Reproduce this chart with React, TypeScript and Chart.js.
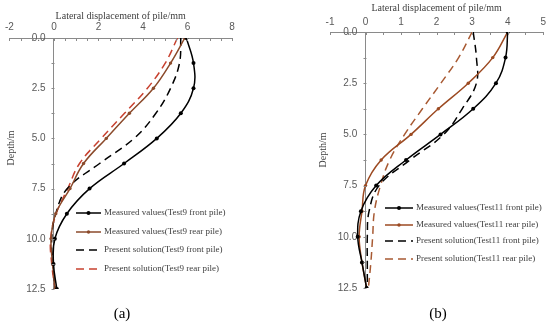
import React, { useEffect, useRef } from 'react';
import { Chart, registerables } from 'chart.js';

Chart.register(...registerables);

// ---- data ----
const depths = [0, 1.25, 2.5, 3.75, 5, 6.25, 7.5, 8.75, 10, 11.25, 12.5];

// Panel (a) - Test9
const aMeasuredFront = [5.95, 6.27, 6.27, 5.7, 4.62, 3.15, 1.6, 0.58, 0.04, -0.02, 0.13];
const aMeasuredRear = [5.88, 5.24, 4.47, 3.39, 2.35, 1.33, 0.72, 0.08, -0.13, -0.06, 0.05];
const aPresentFront = [5.7, 5.64, 5.24, 4.58, 3.6, 2.05, 0.6, 0.08, -0.1, -0.05, 0.05];
const aPresentRear = [5.55, 5.0, 4.2, 3.17, 2.13, 1.15, 0.62, 0.1, -0.15, -0.1, 0.05];

// Panel (b) - Test11
const bMeasuredFront = [4.0, 3.94, 3.67, 3.03, 2.11, 1.14, 0.3, -0.13, -0.22, -0.1, 0.03];
const bMeasuredRear = [4.0, 3.58, 2.89, 2.05, 1.28, 0.44, 0.0, -0.1, -0.18, -0.1, 0.03];
const bPresentFront = [3.03, 3.12, 3.12, 2.72, 2.2, 1.25, 0.38, 0.1, 0.05, 0.05, 0.05];
const bPresentRear = [3.0, 2.62, 2.12, 1.6, 1.1, 0.68, 0.42, 0.25, 0.2, 0.15, 0.08];

const aLegend = [
  'Measured values(Test9 front pile)',
  'Measured values(Test9 rear pile)',
  'Present solution(Test9 front pile)',
  'Present solution(Test9 rear pile)',
];
const bLegend = [
  'Measured values(Test11 front pile)',
  'Measured values(Test11 rear pile)',
  'Present solution(Test11 front pile)',
  'Present solution(Test11 rear pile)',
];

const xTitle = 'Lateral displacement of pile/mm';
const yTitle = 'Depth/m';

// ---- styles ----
const AXIS = '#8a8a8a';
const TICK = '#595959';
const TEXT = '#404040';
const SERIF = '"Liberation Serif", "Times New Roman", serif';
const SANS = '"Liberation Sans", Arial, sans-serif';

type PanelCfg = {
  left: number;
  padding: { left: number; right: number; bottom: number };
  topH: number;
  xMin: number;
  xMax: number;
  xStep: number;
  xPad: number;
  series: number[][];
  colors: string[];
  legend: string[];
  legendX0: number;
  legendX1: number;
  legendTextX: number;
  legendY: number[];
  titleY: number;
  depthX: number;
  depthY: number;
  label: string;
  labelX: number;
  labelY: number;
};

const panelA: PanelCfg = {
  left: 0,
  padding: { left: 7, right: 43, bottom: 36 },
  topH: 38,
  xMin: -2,
  xMax: 8,
  xStep: 2,
  xPad: 5,
  series: [aMeasuredFront, aMeasuredRear, aPresentFront, aPresentRear],
  colors: ['#000000', '#8B4A2B', '#000000', '#C8412F'],
  legend: aLegend,
  legendX0: 76,
  legendX1: 101,
  legendTextX: 104,
  legendY: [213, 232, 250, 269],
  titleY: 16,
  depthX: 11,
  depthY: 148,
  label: '(a)',
  labelX: 122,
  labelY: 314,
};

const panelB: PanelCfg = {
  left: 275,
  padding: { left: 55, right: 4, bottom: 37 },
  topH: 32,
  xMin: -1,
  xMax: 5,
  xStep: 1,
  xPad: 4,
  series: [bMeasuredFront, bMeasuredRear, bPresentFront, bPresentRear],
  colors: ['#000000', '#9C4A22', '#000000', '#A85A33'],
  legend: bLegend,
  legendX0: 385 - 275,
  legendX1: 413 - 275,
  legendTextX: 416 - 275,
  legendY: [208, 225, 241, 259],
  titleY: 8,
  depthX: 323 - 275,
  depthY: 150,
  label: '(b)',
  labelX: 438 - 275,
  labelY: 314,
};

function Panel({ cfg }: { cfg: PanelCfg }) {
  const ref = useRef<HTMLCanvasElement | null>(null);

  useEffect(() => {
    if (!ref.current) return;
    const p = cfg;
    const dashed = [false, false, true, true];
    const radii = [2, 1.7, 0, 0];

    const datasets = p.series.map((vals, i) => ({
      label: p.legend[i],
      data: depths.map((d, k) => ({ x: vals[k], y: d })),
      showLine: true,
      borderColor: p.colors[i],
      backgroundColor: p.colors[i],
      pointBackgroundColor: p.colors[i],
      pointBorderColor: p.colors[i],
      pointRadius: radii[i],
      pointBorderWidth: 0,
      borderWidth: 1.5,
      borderDash: dashed[i] ? [8, 5] : [],
      tension: 0.4,
    }));

    const overlay = {
      id: 'overlay',
      afterDraw(chart: any) {
        const { ctx, chartArea, scales } = chart;
        const xs = scales.x;
        const ys = scales.y;
        ctx.save();
        ctx.strokeStyle = AXIS;
        ctx.lineWidth = 1;
        ctx.setLineDash([]);
        // minor ticks on x axis
        for (let v = p.xMin; v <= p.xMax + 1e-9; v += 0.5) {
          const px = Math.round(xs.getPixelForValue(v)) + 0.5;
          ctx.beginPath();
          ctx.moveTo(px, chartArea.top);
          ctx.lineTo(px, chartArea.top + 3);
          ctx.stroke();
        }
        // minor ticks on y axis
        const x0 = Math.round(xs.getPixelForValue(0)) + 0.5;
        for (let v = 0; v <= 12.5 + 1e-9; v += 1.25) {
          const py = Math.round(ys.getPixelForValue(v)) + 0.5;
          ctx.beginPath();
          ctx.moveTo(x0 - 3, py);
          ctx.lineTo(x0, py);
          ctx.stroke();
        }
        // axis titles
        ctx.fillStyle = TEXT;
        ctx.font = `10px ${SERIF}`;
        ctx.textAlign = 'center';
        ctx.textBaseline = 'middle';
        ctx.fillText(xTitle, (chartArea.left + chartArea.right) / 2, p.titleY);
        ctx.save();
        ctx.translate(p.depthX, p.depthY);
        ctx.rotate(-Math.PI / 2);
        ctx.fillText(yTitle, 0, 0);
        ctx.restore();
        // legend
        ctx.font = `9px ${SERIF}`;
        ctx.textAlign = 'left';
        p.legend.forEach((txt, i) => {
          const y = p.legendY[i];
          ctx.strokeStyle = p.colors[i];
          ctx.lineWidth = 1.5;
          ctx.setLineDash(dashed[i] ? [8, 5] : []);
          ctx.beginPath();
          ctx.moveTo(p.legendX0, y);
          ctx.lineTo(p.legendX1, y);
          ctx.stroke();
          ctx.setLineDash([]);
          if (radii[i] > 0) {
            ctx.fillStyle = p.colors[i];
            ctx.beginPath();
            ctx.arc((p.legendX0 + p.legendX1) / 2, y, radii[i], 0, Math.PI * 2);
            ctx.fill();
          }
          ctx.fillStyle = TEXT;
          ctx.fillText(txt, p.legendTextX, y);
        });
        // panel label
        ctx.fillStyle = '#000';
        ctx.font = `15px ${SERIF}`;
        ctx.textAlign = 'center';
        ctx.fillText(p.label, p.labelX, p.labelY);
        ctx.restore();
      },
    };

    const chart = new Chart(ref.current, {
      type: 'scatter',
      data: { datasets },
      options: {
        animation: false,
        responsive: false,
        devicePixelRatio: 1,
        layout: { padding: { left: p.padding.left, right: p.padding.right, top: 0, bottom: p.padding.bottom } },
        plugins: { legend: { display: false }, tooltip: { enabled: false } },
        scales: {
          x: {
            type: 'linear',
            position: 'top',
            min: p.xMin,
            max: p.xMax,
            afterFit: (s: any) => {
              s.height = p.topH;
            },
            grid: { display: false, drawTicks: false },
            border: { display: true, color: AXIS, width: 1 },
            ticks: {
              stepSize: p.xStep,
              padding: p.xPad,
              color: TICK,
              font: { family: SANS, size: 10 },
              callback: (v: any) => String(v),
            },
          },
          y: {
            type: 'linear',
            position: { x: 0 } as any,
            reverse: true,
            min: 0,
            max: 12.5,
            afterFit: (s: any) => {
              s.width = 0;
            },
            grid: { display: false, drawTicks: true, tickLength: 4 },
            border: { display: true, color: AXIS, width: 1 },
            ticks: {
              stepSize: 2.5,
              padding: 4,
              color: TICK,
              font: { family: SANS, size: 10 },
              callback: (v: any) => Number(v).toFixed(1) + '   ',
            },
          },
        },
      },
      plugins: [overlay],
    } as any);

    return () => chart.destroy();
  }, [cfg]);

  return (
    <canvas
      ref={ref}
      width={275}
      height={325}
      style={{ position: 'absolute', left: cfg.left, top: 0, width: 275, height: 325 }}
    />
  );
}

export default function App() {
  return (
    <div style={{ position: 'fixed', left: 0, top: 0, width: 550, height: 325, background: '#fff', overflow: 'hidden' }}>
      <Panel cfg={panelA} />
      <Panel cfg={panelB} />
    </div>
  );
}
